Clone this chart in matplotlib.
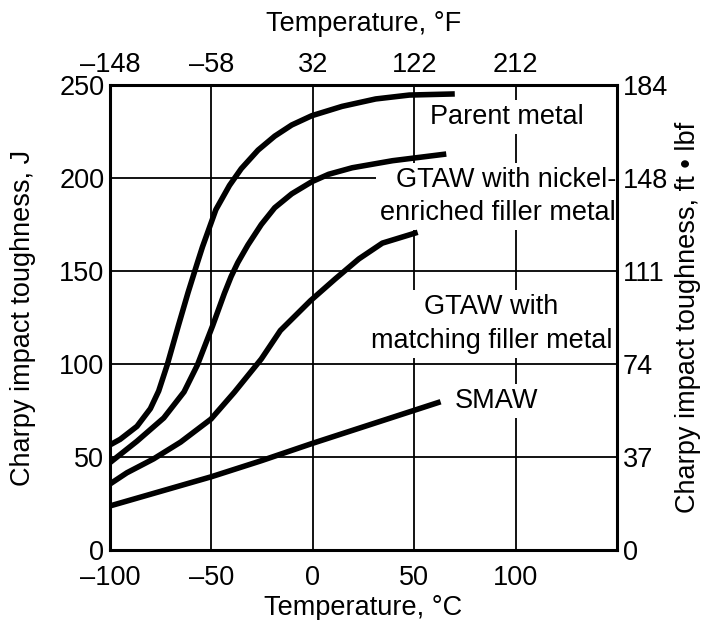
import matplotlib.pyplot as plt

# values (temperature in degC, toughness in J)
parent_t = [-100, -95, -86.7, -80.1, -76, -71.8, -66.3, -61.5, -56.9, -54.4, -47.8,
            -41.1, -35.3, -27, -18.8, -10.4, -0.5, 14.4, 31, 47.6, 70]
parent_j = [56.5, 59.5, 66.5, 76, 85.5, 99.5, 120.6, 138.5, 154.5, 163, 183,
            196, 205, 215, 222.5, 228.5, 233.5, 238.5, 242.5, 244.6, 245.2]

nickel_t = [-100, -86.7, -73.5, -63.5, -56.9, -49.4, -43.6, -40.3, -37, -32, -25.4,
            -18.8, -10.4, -0.5, 7.8, 19.4, 39.3, 65.8]
nickel_j = [47, 58.5, 71, 85, 99.5, 120.6, 138, 147, 154.5, 164, 175,
            184, 191.5, 198, 202, 205.5, 209.3, 212.9]

matching_t = [-100, -91.7, -78.5, -65.2, -50.2, -38.7, -25.4, -16, -1.2, 11, 22.7, 34.3, 51.7]
matching_j = [35.5, 41.5, 49, 58, 70.4, 84.8, 102.7, 118, 134, 145.7, 156.5, 165, 170.8]

smaw_t = [-100, -50, -25.4, 0, 63]
smaw_j = [23.7, 39.4, 48, 57.4, 79.7]

c_ticks = [-100, -50, 0, 50, 100]
c_labels = ["\u2013100", "\u201350", "0", "50", "100"]
f_labels = ["\u2013148", "\u201358", "32", "122", "212"]
j_ticks = [0, 50, 100, 150, 200, 250]
ftlbf_labels = ["0", "37", "74", "111", "148", "184"]

plt.rcParams["font.family"] = ["Liberation Sans", "DejaVu Sans"]
FS = 19.5

fig = plt.figure(figsize=(7.03, 6.20), dpi=100)
ax = fig.add_axes([0.1565, 0.1129, 0.7212, 0.75])

ax.set_xlim(-100, 150)
ax.set_ylim(0, 250)

ax.set_xticks(c_ticks)
ax.set_xticklabels(c_labels)
ax.set_yticks(j_ticks)
ax.set_yticklabels([str(v) for v in j_ticks])
ax.tick_params(axis="x", length=0, labelsize=FS, pad=11)
ax.tick_params(axis="y", length=0, labelsize=FS, pad=4)
ax.grid(True, color="black", linewidth=1.3)
ax.set_axisbelow(True)
for s in ax.spines.values():
    s.set_linewidth(2.2)

ax.set_xlabel("Temperature, \u00b0C", fontsize=FS, labelpad=3)
ax.set_ylabel("Charpy impact toughness, J", fontsize=FS, labelpad=17)

# secondary scales: degF on top, ft.lbf on the right
top = ax.twiny()
top.set_xlim(ax.get_xlim())
top.set_xticks(c_ticks)
top.set_xticklabels(f_labels)
top.tick_params(length=0, labelsize=FS, pad=5)
top.set_xlabel("Temperature, \u00b0F", fontsize=FS, labelpad=15)

right = ax.twinx()
right.set_ylim(ax.get_ylim())
right.set_yticks(j_ticks)
right.set_yticklabels(ftlbf_labels)
right.tick_params(length=0, labelsize=FS, pad=4)
right.set_ylabel("Charpy impact toughness, ft \u2022 lbf", fontsize=FS, labelpad=5)
for a in (top, right):
    for s in a.spines.values():
        s.set_visible(False)

for t, j in [(parent_t, parent_j), (nickel_t, nickel_j),
             (matching_t, matching_j), (smaw_t, smaw_j)]:
    ax.plot(t, j, color="black", linewidth=4.0, solid_capstyle="butt",
            solid_joinstyle="round", zorder=3)

box = dict(facecolor="white", edgecolor="none", pad=3)
ax.text(95.5, 232.8, "Parent metal", fontsize=FS, ha="center", va="center",
        bbox=box, zorder=2)
ax.text(149.6, 190.0, "GTAW with nickel-\nenriched filler metal", fontsize=FS,
        ha="right", va="center", multialignment="right", linespacing=1.32,
        bbox=box, zorder=2)
ax.text(88, 121.5, "GTAW with\nmatching filler metal", fontsize=FS,
        ha="center", va="center", multialignment="center", linespacing=1.4,
        bbox=box, zorder=2)
ax.text(90.5, 80.1, "SMAW", fontsize=FS, ha="center", va="center",
        bbox=box, zorder=2)

fig.savefig("out.png", dpi=100)
